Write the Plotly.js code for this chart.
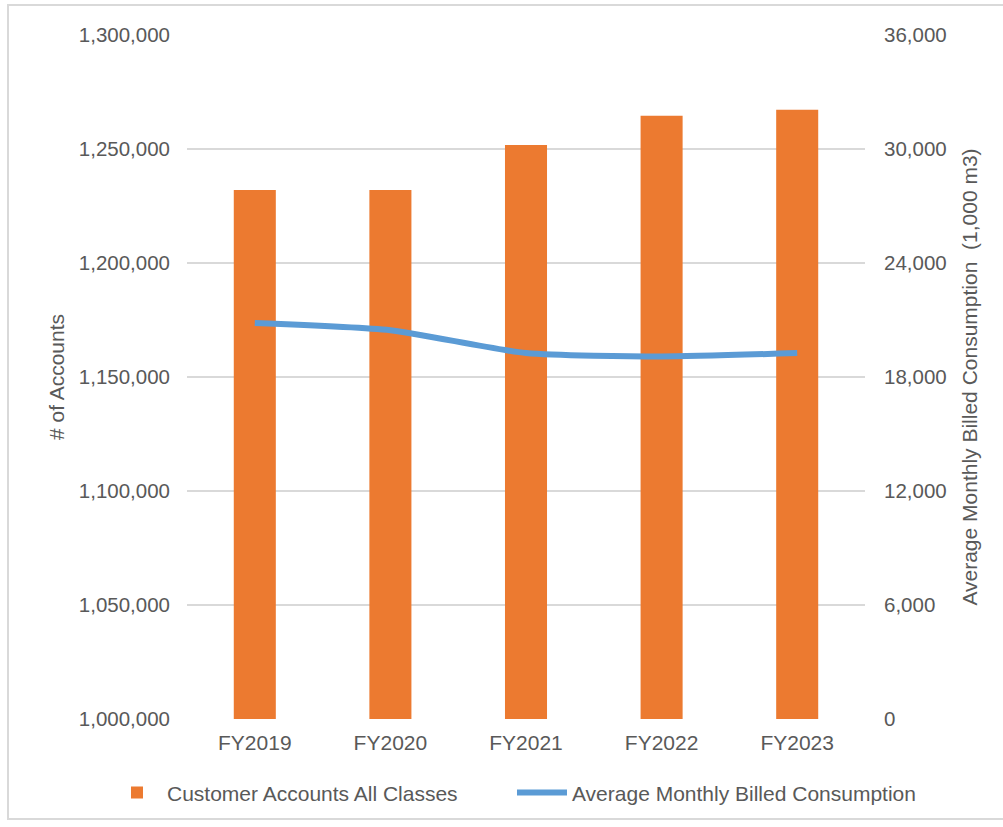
<!DOCTYPE html>
<html>
<head>
<meta charset="utf-8">
<script src="https://cdn.plot.ly/plotly-3.0.1.min.js"></script>
<style>
  html, body { margin: 0; padding: 0; background: #fff; }
  #wrap { position: relative; width: 1003px; height: 827px; }
  #chart { position: absolute; left: 0; top: 0; width: 1003px; height: 827px; }
  #frame { position: absolute; left: 7px; top: 4px; width: 1000px; height: 816px; border: 2px solid #d9d9d9; pointer-events: none; box-sizing: border-box; }
</style>
</head>
<body>
<div id="wrap">
  <div id="chart"></div>
  <div id="frame"></div>
</div>
<script>
const categories = ["FY2019", "FY2020", "FY2021", "FY2022", "FY2023"];
const customerAccounts = [1232000, 1232000, 1251700, 1264600, 1267200];
const avgMonthlyConsumption = [20840, 20460, 19260, 19080, 19260];
const leftTicks = [1000000, 1050000, 1100000, 1150000, 1200000, 1250000, 1300000];
const rightTicks = [0, 6000, 12000, 18000, 24000, 30000, 36000];

const fontFamily = "'Liberation Sans', Arial, sans-serif";
const textColor = "#595959";

const traces = [
  {
    type: "bar",
    name: "Customer Accounts All Classes",
    x: categories,
    y: customerAccounts,
    marker: { color: "#EC7A30" },
    yaxis: "y"
  },
  {
    type: "scatter",
    mode: "lines",
    name: "Average Monthly Billed Consumption",
    x: categories,
    y: avgMonthlyConsumption,
    line: { color: "#5B9BD5", width: 6, shape: "spline", smoothing: 0.6 },
    yaxis: "y2"
  }
];

const layout = {
  width: 1003,
  height: 827,
  margin: { l: 187, r: 138, t: 35, b: 108, autoexpand: false },
  paper_bgcolor: "rgba(0,0,0,0)",
  plot_bgcolor: "rgba(0,0,0,0)",
  font: { family: fontFamily, color: textColor, size: 21 },
  bargap: 0.69,
  showlegend: true,
  legend: {
    orientation: "h",
    x: -0.118, xanchor: "left",
    y: -0.108, yanchor: "middle",
    font: { size: 21, color: textColor },
    itemwidth: 50,
    entrywidth: 340,
    entrywidthmode: "pixels",
    traceorder: "normal"
  },
  xaxis: {
    tickvals: categories,
    showgrid: false,
    zeroline: false,
    showline: false,
    ticks: "",
    ticklabelstandoff: 9,
    tickfont: { size: 21, color: textColor }
  },
  yaxis: {
    range: [1000000, 1300000],
    tickvals: leftTicks,
    tickformat: ",d",
    showgrid: true,
    gridcolor: "#d9d9d9",
    gridwidth: 2,
    zeroline: false,
    showline: false,
    ticks: "",
    ticklabelstandoff: 16,
    tickfont: { size: 20.5, color: textColor },
    title: { text: "# of Accounts", standoff: 8, font: { size: 21, color: textColor } }
  },
  yaxis2: {
    overlaying: "y",
    side: "right",
    range: [0, 36000],
    tickvals: rightTicks,
    tickformat: ",d",
    showgrid: false,
    zeroline: false,
    showline: false,
    ticks: "",
    ticklabelstandoff: 18,
    tickfont: { size: 20.5, color: textColor },
    title: { text: "Average Monthly Billed Consumption  (1,000 m3)", standoff: 16, font: { size: 21, color: textColor } }
  }
};

Plotly.newPlot("chart", traces, layout, { displayModeBar: false, staticPlot: true });
</script>
</body>
</html>
